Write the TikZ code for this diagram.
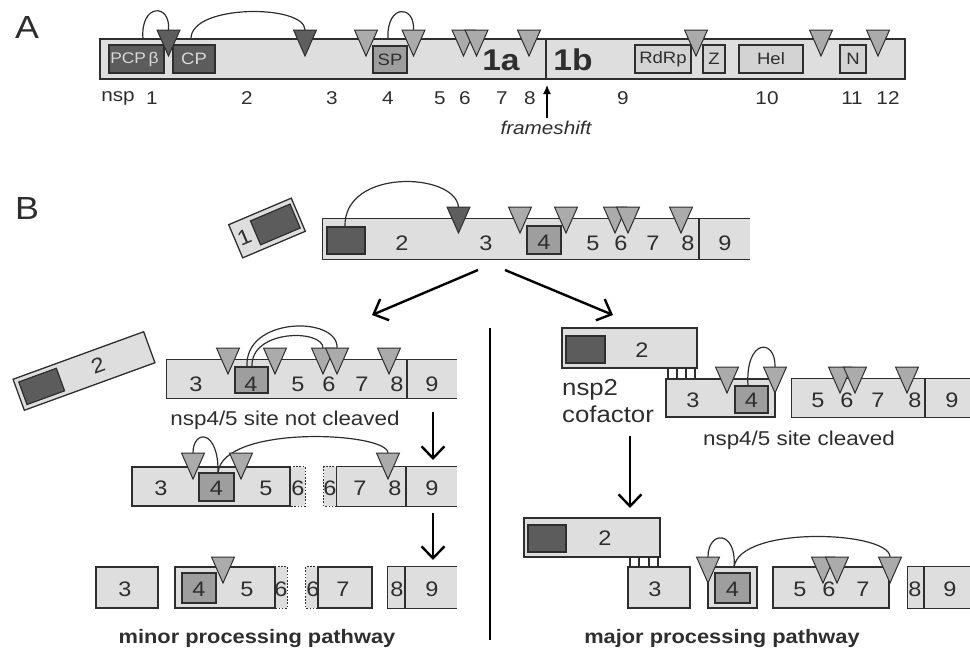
\documentclass[tikz,border=0pt]{standalone}
\usepackage{fontspec}
\setmainfont{Liberation Sans}[FakeStretch=1.12]
\usetikzlibrary{arrows.meta,calc,fit}

\definecolor{ink}{HTML}{2E2E2E}
\definecolor{barfill}{HTML}{DEDEDE}
\definecolor{domfill}{HTML}{D3D3D3}
\definecolor{darkfill}{HTML}{5C5C5C}
\definecolor{subfill}{HTML}{9E9E9E}
\definecolor{tlight}{HTML}{ABABAB}
\definecolor{tdark}{HTML}{5E5E5E}

\begin{document}
\begin{tikzpicture}[x=1pt, y=-1pt,
  font=\fontsize{21}{24}\selectfont, text=ink,
  bar/.style={draw=ink, fill=barfill, line width=1.3pt, inner sep=0pt},
  band/.style={fill=barfill, inner sep=0pt},
  rim/.style={draw=ink, line width=1.3pt},
  dotrim/.style={draw=ink, line width=1.2pt, dash pattern=on 1.6pt off 1.6pt},
  pro/.style={draw=ink, fill=darkfill, line width=1.2pt, inner sep=0pt},
  sub/.style={draw=ink, fill=subfill, line width=1.2pt, inner sep=0pt},
  dom/.style={draw=ink, fill=domfill, line width=1.2pt, inner sep=0pt},
  tag/.style={font=\fontsize{16.5}{18}\selectfont},
  site/.style={draw=ink, line width=1pt},
  hop/.style={draw=ink, line width=1.2pt},
  flow/.style={draw=black, line width=2.4pt, -{Straight Barb[length=12pt, width=23pt]}},
  panel/.style={font=\fontsize{32}{36}\selectfont},
  num/.style={font=\fontsize{18.5}{20}\selectfont},
  big/.style={font=\bfseries\fontsize{30}{32}\selectfont},
  note/.style={font=\fontsize{20}{24}\selectfont},
  route/.style={font=\bfseries\fontsize{19.5}{22}\selectfont}
]
\useasboundingbox (0,0) rectangle (970,653);

% ---------------- A: polyprotein
\node[panel] (labA) at (27,27) {A};
\node[bar, fit={(100,39) (905,79)}] (orf) {};
\draw[rim] (546,39) -- (546,79);
\node[pro, fit={(109,45) (164,73)}] (pcp) {};
\node[pro, fit={(173,45) (215,73)}] (cp) {};
\node[sub, fit={(373,46) (407,73)}] (sp) {};
\node[dom, fit={(635,45) (691,73)}] (rdrp) {};
\node[dom, fit={(703,45) (725,73)}] (zn) {};
\node[dom, fit={(739,45) (803,73)}] (hel) {};
\node[dom, fit={(840,45) (866,73)}] (nmt) {};
\node[tag, text=white!85!black, font=\fontsize{15.5}{18}\selectfont] (pcpT) at ([xshift=-2pt]pcp.center) {PCP\,β};
\node[tag, text=white!85!black] (cpT) at (cp.center) {CP};
\node[tag] (spT) at (sp.center) {SP};
\node[tag] (rdrpT) at (rdrp.center) {RdRp};
\node[tag] (znT) at (zn.center) {Z};
\node[tag] (helT) at (hel.center) {Hel};
\node[tag] (nmtT) at (nmt.center) {N};
\node[big] (orf1a) at (501,60) {1a};
\node[big] (orf1b) at (573,60) {1b};

\node[num] (nspA) at (118,98) {nsp};
\foreach \x/\n in {152/1,247/2,332/3,388/4,440/5,465/6,502/7,530/8,623/9,767/10,852/11,888/12}
  \node[num] (nA\n) at (\x,98) {\n};

\node[font=\itshape\fontsize{18.5}{20}\selectfont] (fs) at (546,128) {frameshift};
\coordinate (fsTip) at (547,85);
\draw[line width=1.4pt, draw=black, -{Latex[length=9pt, width=8pt]}] (fs.north -| fsTip) -- (fsTip);

% cleavage sites A
\coordinate (kA1) at (168.5,30);
\coordinate (kA2) at (305,30);
\coordinate (kA3) at (366,30);
\coordinate (kA4) at (413.5,30);
\coordinate (kA5) at (463.5,30);
\coordinate (kA6) at (476.5,30);
\coordinate (kA7) at (529,30);
\coordinate (kA8) at (696,30);
\coordinate (kA9) at (821,30);
\coordinate (kA10) at (878,30);
\coordinate (sA1) at (143,39);
\coordinate (sA2) at (191,39);
\coordinate (sA3) at (388,39);
\draw[hop] (sA1) .. controls (140,3) and (171,3) .. (kA1);
\draw[hop] (sA2) .. controls (190,4) and (305,4) .. (kA2);
\draw[hop] (sA3) .. controls (386,4) and (415,4) .. (kA4);
\foreach \k in {kA1,kA2}
  \filldraw[site, fill=tdark] (\k) ++(-11.5,0) -- ++(23,0) -- ++(-11.5,26) -- cycle;
\foreach \k in {kA3,kA4,kA5,kA6,kA7,kA8,kA9,kA10}
  \filldraw[site, fill=tlight] (\k) ++(-11.5,0) -- ++(23,0) -- ++(-11.5,26) -- cycle;

% ---------------- B: processing
\node[panel] (labB) at (27,208) {B};
\node[bar, rotate=23, minimum width=68pt, minimum height=36pt] (nsp1) at (267,228) {};
\node[pro, rotate=23, minimum width=43pt, minimum height=26pt, anchor=east] (nsp1p) at ($(nsp1.east)!3.5pt!(nsp1.west)$) {};
\node[rotate=23] (nsp1n) at ($(nsp1.west)!10pt!(nsp1.east)$) {1};

\node[band, fit={(323,219) (750,259)}] (pp) {};
\draw[rim] (pp.north east) -- (pp.north west) -- (pp.south west) -- (pp.south east);
\draw[rim] (699,219) -- (699,259);
\node[pro, fit={(327,227) (365,254)}] (ppP) {};
\node[sub, fit={(527,226) (561,254)}] (pp4) {};
\node (pp4n) at (544,242) {4};
\foreach \x/\n in {402/2,486/3,593/5,621/6,653/7,688/8,725/9}
  \node (pp\n) at (\x,243) {\n};
\coordinate (kB0) at (458.5,207);
\coordinate (kB1) at (520,207);
\coordinate (kB2) at (566,207);
\coordinate (kB3) at (615,207);
\coordinate (kB4) at (628,207);
\coordinate (kB5) at (681,207);
\coordinate (sB) at (345,227);
\draw[hop] (sB) .. controls (343,168) and (455,172) .. (kB0);
\filldraw[site, fill=tdark] (kB0) ++(-11.5,0) -- ++(23,0) -- ++(-11.5,26) -- cycle;
\foreach \k in {kB1,kB2,kB3,kB4,kB5}
  \filldraw[site, fill=tlight] (\k) ++(-11.5,0) -- ++(23,0) -- ++(-11.5,26) -- cycle;

\coordinate (forkL) at (478,270);
\coordinate (minorIn) at (372,315);
\coordinate (forkR) at (505,270);
\coordinate (majorIn) at (613,315);
\draw[flow] (forkL) -- (minorIn);
\draw[flow] (forkR) -- (majorIn);
\draw[draw=black, line width=2.4pt] (490,328) -- (490,640);

% minor pathway
\node[bar, rotate=20, minimum width=139pt, minimum height=33pt] (nsp2m) at (84,371) {};
\node[pro, rotate=20, minimum width=40pt, minimum height=24pt, anchor=west] (nsp2mP) at ($(nsp2m.west)!4.5pt!(nsp2m.east)$) {};
\node[rotate=20] (nsp2mN) at ($(nsp2m.center)!15pt!(nsp2m.east)$) {2};

\node[band, fit={(167,360) (457,398)}] (mi1) {};
\draw[rim] (mi1.north east) -- (mi1.north west) -- (mi1.south west) -- (mi1.south east);
\draw[rim] (407,360) -- (407,398);
\node[sub, fit={(235,367) (268,393)}] (mi1p) {};
\foreach \x/\n in {196/3,251/4,298/5,329/6,362/7,397/8,432/9}
  \node (mi1n\n) at (\x,384) {\n};
\coordinate (kL1) at (228,348);
\coordinate (kL2) at (275,348);
\coordinate (kL3) at (323,348);
\coordinate (kL4) at (337,348);
\coordinate (kL5) at (389,348);
\coordinate (sL1) at (247,367);
\coordinate (sL2) at (252,367);
\draw[hop] (sL1) .. controls (244,316) and (339,316) .. (kL4);
\draw[hop] (sL2) .. controls (250,329) and (323,329) .. (kL3);
\foreach \k in {kL1,kL2,kL3,kL4,kL5}
  \filldraw[site, fill=tlight] (\k) ++(-11.5,0) -- ++(23,0) -- ++(-11.5,26) -- cycle;
\node[note] (nc) at (285,420) {nsp4/5 site not cleaved};

\coordinate (d1a) at (433,412);
\coordinate (d1b) at (433,460);
\coordinate (d2a) at (433,513);
\coordinate (d2b) at (433,560);
\draw[flow] (d1a) -- (d1b);
\draw[flow] (d2a) -- (d2b);

\node[band, fit={(290,467) (305,506)}] (mi2d) {};
\draw[dotrim] (mi2d.north west) -- (mi2d.north east) -- (mi2d.south east) -- (mi2d.south west);
\node[bar, fit={(132,467) (290,506)}] (mi2a) {};
\node[band, fit={(324,467) (337,506)}] (mi2e) {};
\draw[dotrim] (mi2e.north east) -- (mi2e.north west) -- (mi2e.south west) -- (mi2e.south east);
\node[band, fit={(337,467) (457,506)}] (mi2b) {};
\draw[rim] (mi2b.north east) -- (mi2b.north west) -- (mi2b.south west) -- (mi2b.south east);
\draw[rim] (406,467) -- (406,506);
\node[sub, fit={(199,473) (234,501)}] (mi2p) {};
\foreach \x/\n [count=\i] in {161/3,216.5/4,266/5,298/6,330/6,360/7,395/8,432/9}
  \node (mi2n\i) at (\x,488) {\n};
\coordinate (kM1) at (193,453);
\coordinate (kM2) at (241,453);
\coordinate (kM3) at (388,453);
\coordinate (sM) at (218,473);
\draw[hop] (sM) .. controls (219,429) and (193,429) .. (kM1);
\draw[hop] (sM) .. controls (222,424) and (388,432) .. (kM3);
\foreach \k in {kM1,kM2,kM3}
  \filldraw[site, fill=tlight] (\k) ++(-11.5,0) -- ++(23,0) -- ++(-11.5,26) -- cycle;

\node[bar, fit={(96,567) (158,608)}] (mi3a) {};
\node[band, fit={(275,567) (287,608)}] (mi3d) {};
\draw[dotrim] (mi3d.north west) -- (mi3d.north east) -- (mi3d.south east) -- (mi3d.south west);
\node[bar, fit={(175,567) (275,608)}] (mi3b) {};
\node[band, fit={(306,567) (318,608)}] (mi3e) {};
\draw[dotrim] (mi3e.north east) -- (mi3e.north west) -- (mi3e.south west) -- (mi3e.south east);
\node[bar, fit={(318,567) (372,608)}] (mi3c) {};
\node[band, fit={(388,567) (457,608)}] (mi3f) {};
\draw[rim] (mi3f.north east) -- (mi3f.north west) -- (mi3f.south west) -- (mi3f.south east);
\draw[rim] (405,567) -- (405,608);
\node[sub, fit={(182,573) (216,603)}] (mi3p) {};
\foreach \x/\n [count=\i] in {125/3,199/4,247/5,281/6,313/6,343/7,397/8,432/9}
  \node (mi3n\i) at (\x,589) {\n};
\coordinate (kN1) at (223,557);
\filldraw[site, fill=tlight] (kN1) ++(-11.5,0) -- ++(23,0) -- ++(-11.5,26) -- cycle;
\node[route] (minor) at (257,638) {minor processing pathway};

% major pathway
\node[bar, fit={(562,328) (697,368)}] (ma2) {};
\node[pro, fit={(566,336) (605,363)}] (ma2p) {};
\node (ma2n) at (642,350) {2};
\foreach \x in {668,677,686,695}
  \draw[rim, line width=1.1pt] (\x,368) -- (\x,379);
\node[bar, fit={(666,379) (775,417)}] (ma34) {};
\node[sub, fit={(735,386) (768,413)}] (ma34p) {};
\node (ma3n) at (693,400) {3};
\node (ma4n) at (751.5,400) {4};
\node[band, fit={(792,379) (970,417)}] (ma59) {};
\draw[rim] (ma59.north east) -- (ma59.north west) -- (ma59.south west) -- (ma59.south east);
\draw[rim] (925,379) -- (925,417);
\foreach \x/\n in {818/5,847/6,878/7,915/8,952/9}
  \node (ma59n\n) at (\x,400) {\n};
\coordinate (kR1) at (727,367);
\coordinate (kR2) at (775,367);
\coordinate (kR3) at (840,367);
\coordinate (kR4) at (855,367);
\coordinate (kR5) at (907,367);
\coordinate (sR) at (748,386);
\draw[hop] (sR) .. controls (745,338) and (776,338) .. (kR2);
\foreach \k in {kR1,kR2,kR3,kR4,kR5}
  \filldraw[site, fill=tlight] (\k) ++(-11.5,0) -- ++(23,0) -- ++(-11.5,26) -- cycle;
\node[font=\fontsize{23}{27}\selectfont, align=left, anchor=west, inner sep=0pt] (cof) at (562,401) {nsp2\\cofactor};
\node[note] (cl) at (799,440) {nsp4/5 site cleaved};

\coordinate (d3a) at (630,436);
\coordinate (d3b) at (630,508);
\draw[flow] (d3a) -- (d3b);

\node[bar, fit={(524,518) (660,557)}] (mb2) {};
\node[pro, fit={(528,525) (566,552)}] (mb2p) {};
\node (mb2n) at (605,538) {2};
\foreach \x in {630,639,649,658}
  \draw[rim, line width=1.1pt] (\x,557) -- (\x,567);
\node[bar, fit={(628,567) (690,608)}] (mb3) {};
\node[bar, fit={(708,567) (757,608)}] (mb4) {};
\node[sub, fit={(715,573) (750,603)}] (mb4p) {};
\node[bar, fit={(773,567) (889,608)}] (mb57) {};
\node[band, fit={(908,567) (970,608)}] (mb89) {};
\draw[rim] (mb89.north east) -- (mb89.north west) -- (mb89.south west) -- (mb89.south east);
\draw[rim] (924,567) -- (924,608);
\foreach \x/\n in {655/3,732.5/4,800/5,829/6,863/7,915/8,950/9}
  \node (mbn\n) at (\x,589) {\n};
\coordinate (kS1) at (708,557);
\coordinate (kS2) at (823,557);
\coordinate (kS3) at (837,557);
\coordinate (kS4) at (890,557);
\coordinate (sS) at (734,567);
\draw[hop] (sS) .. controls (737,530) and (708,530) .. (kS1);
\draw[hop] (sS) .. controls (740,525) and (890,531) .. (kS4);
\foreach \k in {kS1,kS2,kS3,kS4}
  \filldraw[site, fill=tlight] (\k) ++(-11.5,0) -- ++(23,0) -- ++(-11.5,26) -- cycle;
\node[route] (major) at (722,638) {major processing pathway};
\end{tikzpicture}
\end{document}
